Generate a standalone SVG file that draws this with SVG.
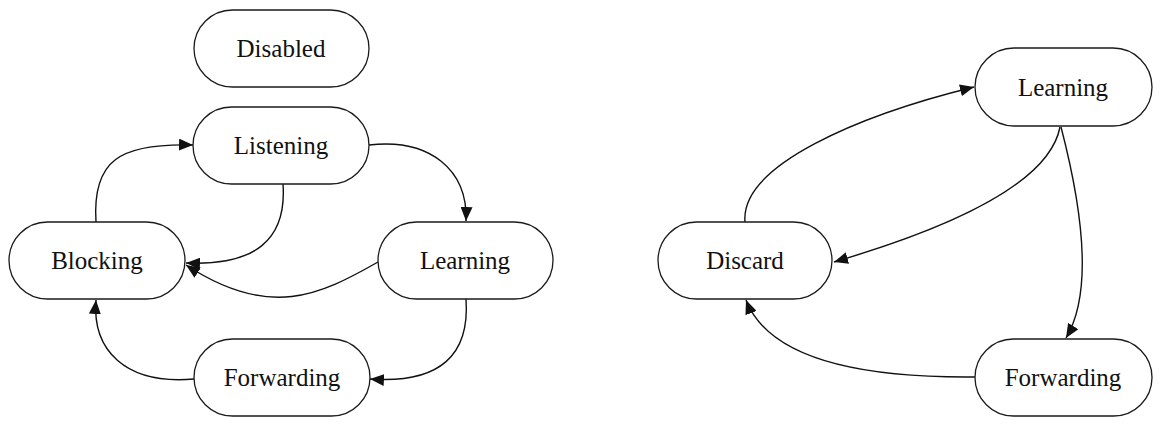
<svg xmlns="http://www.w3.org/2000/svg" width="1161" height="428" viewBox="0 0 1161 428">
<defs>
<style>
.node rect{fill:#fff;stroke:#1a1a1a;stroke-width:1.3}
.node text{font-family:"Liberation Serif","Times New Roman",serif;font-size:25px;fill:#111;text-anchor:middle}
.edges path{fill:none;stroke:#111;stroke-width:1.4;marker-end:url(#arr)}
</style>
<marker id="arr" viewBox="0 0 14 12" refX="14" refY="6" markerWidth="14" markerHeight="12" markerUnits="userSpaceOnUse" orient="auto">
<path d="M0,0 L14,6 L0,12 z" fill="#111"/>
</marker>
</defs>
<rect width="1161" height="428" fill="#fff"/>
<g class="edges">
<path d="M96,222 C92,160 120,143 193,145"/>
<path d="M369,145 C430,138 468,170 466,221"/>
<path d="M283,184 C287,240 255,266 186,263"/>
<path d="M378,262 C320,295 270,320 186,265"/>
<path d="M466,299 C470,355 440,384 370,379"/>
<path d="M194,379 C125,385 92,350 96,300"/>
<path d="M745,222 C740,165 860,115 974,87"/>
<path d="M1060,127 C1050,180 960,225 834,262"/>
<path d="M1061,127 C1080,200 1095,290 1066,338"/>
<path d="M975,377 C870,378 770,362 746,300"/>
</g>
<g id="disabled" class="node"><rect x="194" y="10" width="175" height="77" rx="38.5"/><text x="281" y="57">Disabled</text></g>
<g id="listening" class="node"><rect x="193" y="107" width="176" height="77" rx="38.5"/><text x="281" y="154">Listening</text></g>
<g id="blocking" class="node"><rect x="9" y="222" width="176" height="77" rx="38.5"/><text x="97" y="269">Blocking</text></g>
<g id="learning-l" class="node"><rect x="378" y="222" width="175" height="77" rx="38.5"/><text x="465" y="269">Learning</text></g>
<g id="forwarding-l" class="node"><rect x="194" y="339" width="176" height="77" rx="38.5"/><text x="282" y="386">Forwarding</text></g>
<g id="discard" class="node"><rect x="658" y="222" width="174" height="77" rx="38.5"/><text x="745" y="269">Discard</text></g>
<g id="learning-r" class="node"><rect x="975" y="48" width="177" height="78" rx="39"/><text x="1063" y="96">Learning</text></g>
<g id="forwarding-r" class="node"><rect x="975" y="339" width="177" height="77" rx="38.5"/><text x="1063" y="386">Forwarding</text></g>
</svg>
